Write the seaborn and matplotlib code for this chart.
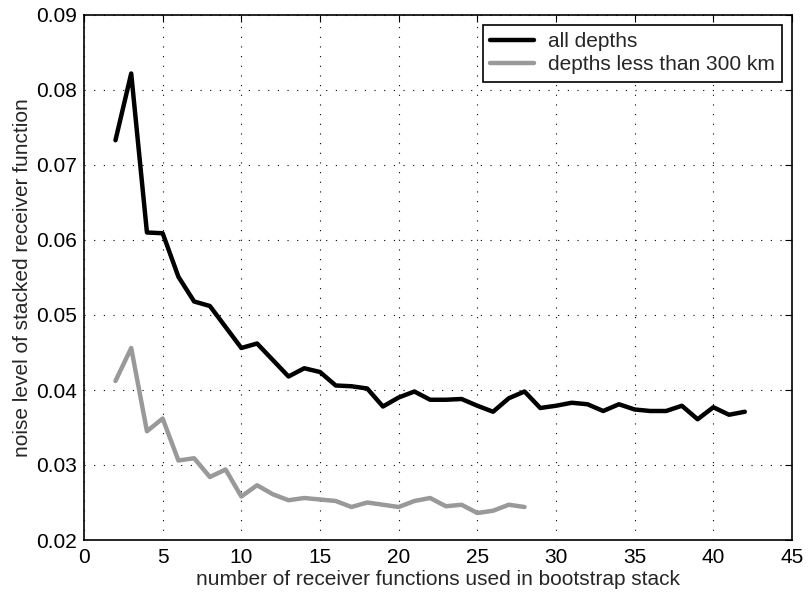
import numpy as np
import pandas as pd
import matplotlib
matplotlib.use("Agg")
import matplotlib.pyplot as plt
import seaborn as sns

# Data
n_all = list(range(2, 43))
noise_all = [0.0733, 0.0822, 0.0610, 0.0609, 0.0551, 0.0518, 0.0512, 0.0484, 0.0456, 0.0462,
             0.0440, 0.0418, 0.0429, 0.0424, 0.0406, 0.0405, 0.0402, 0.0378, 0.0390, 0.0398,
             0.0387, 0.0387, 0.0388, 0.0379, 0.0371, 0.0389, 0.0398, 0.0376, 0.0379, 0.0383,
             0.0381, 0.0372, 0.0381, 0.0374, 0.0372, 0.0372, 0.0379, 0.0361, 0.0377, 0.0367,
             0.0371]
n_shallow = list(range(2, 29))
noise_shallow = [0.0412, 0.0456, 0.0345, 0.0362, 0.0306, 0.0309, 0.0284, 0.0294, 0.0258, 0.0273,
                 0.0261, 0.0253, 0.0256, 0.0254, 0.0252, 0.0244, 0.0250, 0.0247, 0.0244, 0.0252,
                 0.0256, 0.0245, 0.0247, 0.0236, 0.0239, 0.0247, 0.0244]
labels = ["all depths", "depths less than 300 km"]
x_ticks = [0, 5, 10, 15, 20, 25, 30, 35, 40, 45]
y_ticks = [0.02, 0.03, 0.04, 0.05, 0.06, 0.07, 0.08, 0.09]

df = pd.concat([
    pd.DataFrame({"n": n_all, "noise": noise_all, "series": labels[0]}),
    pd.DataFrame({"n": n_shallow, "noise": noise_shallow, "series": labels[1]}),
])

sns.set_style("white")
plt.rcParams["font.family"] = ["Liberation Sans", "DejaVu Sans"]

FS = 15

fig = plt.figure(figsize=(8.08, 5.99), dpi=100)
ax = fig.add_axes([84 / 808, 59 / 599, 708 / 808, 525 / 599])

sns.lineplot(data=df, x="n", y="noise", hue="series", hue_order=labels,
             palette=["#000000", "#999999"], linewidth=3.2, ax=ax, legend=True)

ax.set_xlim(0, 45)
ax.set_ylim(0.02, 0.09)
ax.set_xticks(x_ticks)
ax.set_yticks(y_ticks)
ax.set_xticklabels([str(t) for t in x_ticks])
ax.set_yticklabels([f"{t:.2f}" for t in y_ticks])
ax.tick_params(direction="in", top=True, right=True, length=5, width=0.8,
               labelsize=FS, colors="black")
ax.tick_params(axis="x", pad=6)
ax.tick_params(axis="y", pad=5)
ax.grid(True, linestyle=(0, (1, 7.7)), color="black", linewidth=0.8)
for s in ax.spines.values():
    s.set_visible(True)
    s.set_color("black")
    s.set_linewidth(1.2)

ax.set_xlabel("number of receiver functions used in bootstrap stack", fontsize=FS, labelpad=2)
ax.set_ylabel("noise level of stacked receiver function", fontsize=FS, labelpad=3)

leg = ax.legend(loc="upper right", fontsize=FS, frameon=True, fancybox=False,
                edgecolor="black", framealpha=1, borderaxespad=0.48,
                handlelength=2.1, handletextpad=0.67, borderpad=0.35, labelspacing=0.2)
leg.get_frame().set_linewidth(1.2)
for line in leg.get_lines():
    line.set_linewidth(3.2)

fig.savefig("out.png", dpi=100)
